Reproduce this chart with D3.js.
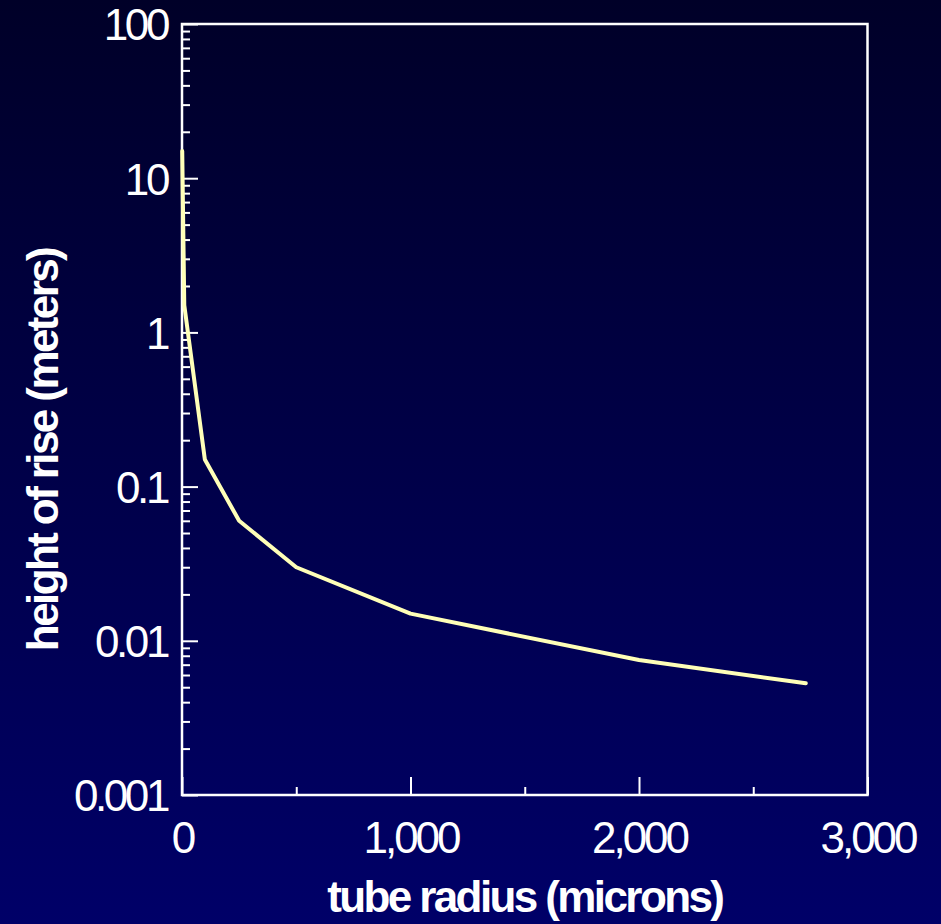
<!DOCTYPE html>
<html>
<head>
<meta charset="utf-8">
<script src="https://cdn.jsdelivr.net/npm/d3@7"></script>
<style>
  html, body { margin: 0; padding: 0; }
  body { width: 941px; height: 924px; overflow: hidden; }
  text { font-family: "Liberation Sans", Arial, Helvetica, sans-serif; fill: #fff; }
</style>
</head>
<body>
<script>
// Data
var radius = [1, 10, 100, 250, 500, 1000, 2000, 2730];         // microns
var rise = [15, 1.5, 0.15, 0.06, 0.03, 0.015, 0.0075, 0.0053];  // meters
var xTicks = [0, 1000, 2000, 3000];
var xMinorTicks = [500, 1500, 2500];
var yTicks = [0.001, 0.01, 0.1, 1, 10, 100];
var yTickLabels = ["0.001", "0.01", "0.1", "1", "10", "100"];

var W = 941, H = 924;
var margin = { top: 24, right: 73.5, bottom: 129, left: 182 };
var width = W - margin.left - margin.right;
var height = H - margin.top - margin.bottom;

var svg = d3.select("body").append("svg")
	.attr("width", W)
	.attr("height", H);

// background gradient, dark at top, brighter navy at bottom
var grad = svg.append("defs").append("linearGradient")
	.attr("id", "bg")
	.attr("x1", 0).attr("y1", 0).attr("x2", 0).attr("y2", 1);
grad.append("stop").attr("offset", "0%").attr("stop-color", "#000028");
grad.append("stop").attr("offset", "100%").attr("stop-color", "#000068");

svg.append("rect")
	.attr("width", W)
	.attr("height", H)
	.attr("fill", "url(#bg)");

var g = svg.append("g")
	.attr("transform", "translate(" + margin.left + "," + margin.top + ")");

var x = d3.scaleLinear()
	.domain([0, 3000])
	.range([0, width]);

var y = d3.scaleLog()
	.domain([0.001, 100])
	.range([height, 0]);

// minor y ticks: 2..9 in every decade
var yMinor = [];
yTicks.slice(0, -1).forEach(function(d) {
	for (var k = 2; k <= 9; k++) yMinor.push(d * k);
});

var tickStyle = function(sel) {
	sel.select(".domain").remove();
	sel.selectAll(".tick line").attr("stroke", "#fff").attr("stroke-width", 2);
};

// y axis (ticks point inward)
g.append("g")
	.call(d3.axisRight(y).tickValues(yMinor).tickSize(8).tickFormat(""))
	.call(tickStyle);

g.append("g")
	.call(d3.axisRight(y).tickValues(yTicks).tickSize(16).tickFormat(""))
	.call(tickStyle);

g.append("g")
	.call(d3.axisLeft(y).tickValues(yTicks).tickSize(0).tickPadding(15)
		.tickFormat(function(d, i) { return yTickLabels[i]; }))
	.call(function(sel) {
		sel.select(".domain").remove();
		sel.selectAll("text")
			.attr("fill", "#fff")
			.style("font-size", "44px")
			.style("letter-spacing", "-3.4px")
			.attr("dy", "0.36em");
	});

// x axis (ticks point up into the plot)
g.append("g")
	.attr("transform", "translate(0," + height + ")")
	.call(d3.axisTop(x).tickValues(xMinorTicks).tickSize(8).tickFormat(""))
	.call(tickStyle);

g.append("g")
	.attr("transform", "translate(0," + height + ")")
	.call(d3.axisTop(x).tickValues(xTicks).tickSize(18).tickFormat(""))
	.call(tickStyle);

g.append("g")
	.attr("transform", "translate(0," + height + ")")
	.call(d3.axisBottom(x).tickValues(xTicks).tickSize(0).tickPadding(27)
		.tickFormat(d3.format(",")))
	.call(function(sel) {
		sel.select(".domain").remove();
		sel.selectAll("text")
			.attr("fill", "#fff")
			.style("font-size", "44px")
			.style("letter-spacing", "-3px");
	});

// frame
g.append("rect")
	.attr("width", width)
	.attr("height", height)
	.attr("fill", "none")
	.attr("stroke", "#fff")
	.attr("stroke-width", 2.5);

// the curve
var line = d3.line()
	.x(function(d, i) { return x(radius[i]); })
	.y(function(d) { return y(d); });

g.append("path")
	.datum(rise)
	.attr("fill", "none")
	.attr("stroke", "#ffffb8")
	.attr("stroke-width", 4)
	.attr("stroke-linejoin", "round")
	.attr("stroke-linecap", "round")
	.attr("d", line);

// axis titles
svg.append("text")
	.attr("x", margin.left + width / 2)
	.attr("y", 912)
	.attr("text-anchor", "middle")
	.style("font-size", "44px")
	.style("font-weight", "bold")
	.style("letter-spacing", "-2.6px")
	.text("tube radius (microns)");

svg.append("text")
	.attr("transform", "translate(58,450) rotate(-90)")
	.attr("text-anchor", "middle")
	.style("font-size", "44px")
	.style("font-weight", "bold")
	.style("letter-spacing", "-2.6px")
	.text("height of rise (meters)");
</script>
</body>
</html>
